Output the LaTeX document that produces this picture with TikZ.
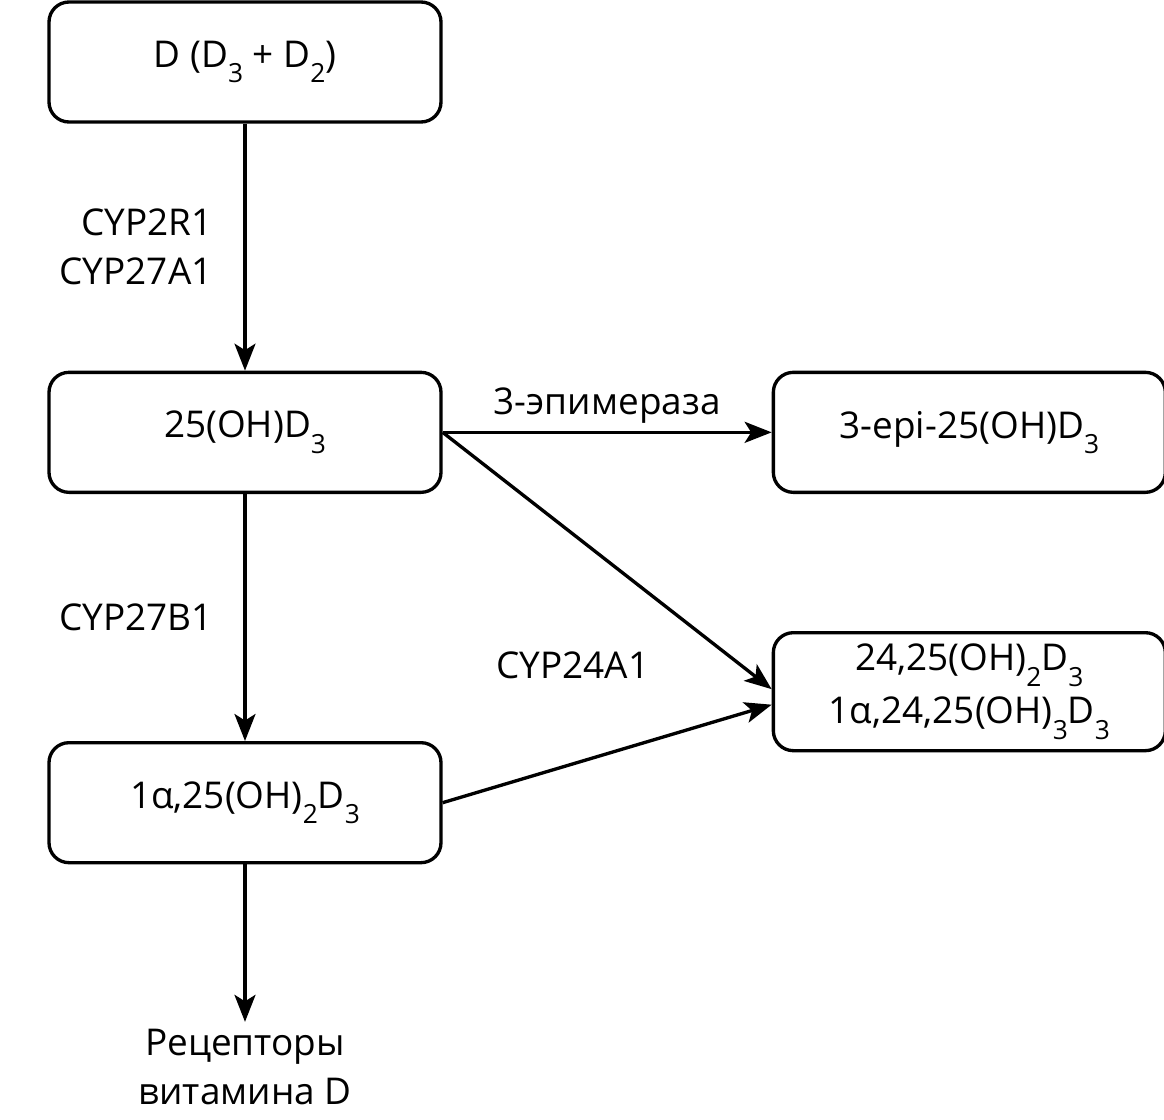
\documentclass[tikz,border=0pt]{standalone}
\usepackage{fontspec}
\setmainfont{Open Sans}
\usepackage{tikz}
\usetikzlibrary{positioning,arrows.meta}

\newcommand{\lowidx}[1]{\raisebox{-0.42em}{\fontsize{15}{15}\selectfont #1}}

\begin{document}
\begin{tikzpicture}[
	>={Stealth[length=5.4mm,width=4.2mm,inset=1.3mm]},
	line width=1.9pt,
	font=\fontsize{21}{28}\selectfont,
	metab/.style={
		rectangle,
		rounded corners=4mm,
		draw,
		align=center,
		minimum width=7.84cm,
		minimum height=2.4cm,
		inner sep=0pt
	},
	enz/.style={align=right}
	]
	\useasboundingbox (0,0) rectangle (23.28,-22.4);
	
	\node[metab] (vitd) at (4.9,-1.24) {D (D\lowidx{3} + D\lowidx{2})};
	\node[metab] (calcidiol) [below=4.94cm of vitd] {25(OH)D\lowidx{3}};
	\node[metab] (calcitriol) [below=4.94cm of calcidiol] {1α,25(OH)\lowidx{2}D\lowidx{3}};
	\node[metab] (epi) [right=6.58cm of calcidiol] {3-epi-25(OH)D\lowidx{3}};
	\node[metab] (inact) [below=2.74cm of epi, minimum height=2.36cm] {24,25(OH)\lowidx{2}D\lowidx{3}\\[2pt]1α,24,25(OH)\lowidx{3}D\lowidx{3}};
	\node[align=center] (vdr) [below=3.15cm of calcitriol] {Рецепторы\\витамина D};
	
	\draw[->] (vitd) -- node[enz,left=0.5cm]{CYP2R1\\CYP27A1} (calcidiol);
	\draw[->] (calcidiol) -- node[enz,left=0.5cm]{CYP27B1} (calcitriol);
	\draw[->] (calcidiol.east) -- node[above=1pt]{3-эпимераза} (epi.west);
	\draw[->] (calcidiol.east) -- ([yshift=0.05cm]inact.west);
	\draw[->] (calcitriol.east) -- ([yshift=-0.26cm]inact.west);
	\draw[->] (calcitriol) -- (vdr.north);
	\node (cyp24) at (11.46,-13.3) {CYP24A1};
\end{tikzpicture}
\end{document}
